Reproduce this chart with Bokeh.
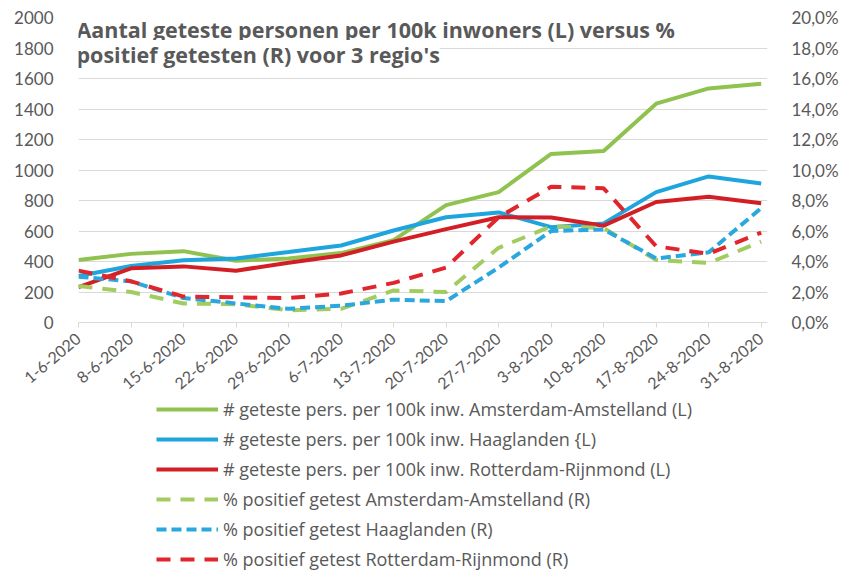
from bokeh.plotting import figure
from bokeh.layouts import column
from bokeh.models import (Range1d, LinearAxis, FixedTicker, CustomJSTickFormatter,
                          Legend, LegendItem, Label)
from bokeh.embed import file_html
from bokeh.resources import INLINE

dates = ["1-6-2020", "8-6-2020", "15-6-2020", "22-6-2020", "29-6-2020", "6-7-2020",
         "13-7-2020", "20-7-2020", "27-7-2020", "3-8-2020", "10-8-2020", "17-8-2020",
         "24-8-2020", "31-8-2020"]

tests_ams = [410, 450, 468, 405, 420, 455, 540, 770, 855, 1105, 1125, 1435, 1535, 1565]
tests_haa = [305, 370, 408, 420, 462, 505, 603, 690, 722, 625, 650, 855, 958, 912]
tests_rot = [232, 355, 368, 340, 392, 440, 530, 612, 690, 688, 635, 790, 825, 782]

pct_ams = [2.4, 2.0, 1.25, 1.2, 0.8, 0.9, 2.1, 2.0, 4.9, 6.3, 6.2, 4.1, 3.9, 5.3]
pct_haa = [3.0, 2.7, 1.6, 1.25, 0.9, 1.1, 1.5, 1.4, 3.6, 6.0, 6.1, 4.2, 4.6, 7.5]
pct_rot = [3.4, 2.7, 1.7, 1.65, 1.6, 1.9, 2.6, 3.6, 6.9, 8.9, 8.8, 5.0, 4.5, 5.9]

left_ticks = list(range(0, 2001, 200))
right_ticks = list(range(0, 21, 2))

legend_labels = [
    "# geteste pers. per 100k inw. Amsterdam-Amstelland (L)",
    "# geteste pers. per 100k inw. Haaglanden {L)",
    "# geteste pers. per 100k inw. Rotterdam-Rijnmond (L)",
    "% positief getest Amsterdam-Amstelland (R)",
    "% positief getest Haaglanden (R)",
    "% positief getest Rotterdam-Rijnmond (R)",
]
title_lines = ["Aantal geteste personen per 100k inwoners (L) versus %",
               "positief getesten (R) voor 3 regio's"]

GREEN = "#8fc24f"
BLUE = "#1ea5de"
RED = "#d21f26"
GREEN_D = "#a2cc60"
BLUE_D = "#2aa8de"
RED_D = "#e0262c"
TXT = "#595959"
GRID = "#d9d9d9"
FONT = "Lato"
W = 4
DASH_LONG = "14 10"
DASH_SHORT = "10 5"

xs = list(range(len(dates)))

p = figure(frame_width=689, frame_height=305, output_backend="svg", toolbar_location=None,
           x_range=Range1d(0, 13.12), y_range=Range1d(0, 2000),
           min_border_left=78, min_border_right=10, min_border_top=17,
           min_border_bottom=73)
p.outline_line_color = None
p.extra_y_ranges = {"pct": Range1d(0, 20)}

xa = p.xaxis[0]
xa.ticker = FixedTicker(ticks=xs)
xa.major_label_overrides = {i: d for i, d in enumerate(dates)}
xa.major_label_orientation = 0.70
xa.axis_line_color = GRID
xa.major_tick_line_color = GRID
xa.major_tick_out = 5
xa.major_tick_in = 0
xa.minor_tick_line_color = None
xa.major_label_text_font = FONT
xa.major_label_text_font_size = "16px"
xa.major_label_text_color = TXT
xa.major_label_standoff = 9

ya = p.yaxis[0]
ya.ticker = FixedTicker(ticks=left_ticks)
ya.axis_line_color = None
ya.major_tick_line_color = None
ya.minor_tick_line_color = None
ya.major_label_text_font = FONT
ya.major_label_text_font_size = "17px"
ya.major_label_text_color = TXT
ya.major_label_standoff = 19

ra = LinearAxis(y_range_name="pct", ticker=FixedTicker(ticks=right_ticks),
                formatter=CustomJSTickFormatter(code="return tick.toFixed(1).replace('.', ',') + '%';"))
ra.axis_line_color = None
ra.major_tick_line_color = None
ra.minor_tick_line_color = None
ra.major_label_text_font = FONT
ra.major_label_text_font_size = "17px"
ra.major_label_text_color = TXT
ra.major_label_standoff = 18
p.add_layout(ra, "right")

p.xgrid.grid_line_color = None
p.ygrid.ticker = FixedTicker(ticks=left_ticks)
p.ygrid.grid_line_color = GRID
p.ygrid.grid_line_width = 1

p.line(xs, tests_ams, line_color=GREEN, line_width=W)
p.line(xs, tests_haa, line_color=BLUE, line_width=W)
p.line(xs, tests_rot, line_color=RED, line_width=W)
p.line(xs, pct_ams, y_range_name="pct", line_color=GREEN_D, line_width=W, line_dash=DASH_LONG)
p.line(xs, pct_haa, y_range_name="pct", line_color=BLUE_D, line_width=W, line_dash=DASH_SHORT)
p.line(xs, pct_rot, y_range_name="pct", line_color=RED_D, line_width=W, line_dash=DASH_LONG)

for t, yy in zip(title_lines, [293, 268]):
    p.add_layout(Label(x=-2, y=yy, x_units="screen", y_units="screen", text=t,
                       text_font="Open Sans", text_font_style="bold", text_font_size="21.5px",
                       text_color=TXT, text_baseline="middle",
                       background_fill_color="white", padding=0))

# legend panel (its frame is aligned with the chart frame by the column layout)
q = figure(width=826, height=176, output_backend="svg", toolbar_location=None,
           x_range=Range1d(0, 1), y_range=Range1d(0, 1),
           x_axis_location=None, y_axis_location=None,
           min_border_left=0, min_border_right=0, min_border_top=0, min_border_bottom=0)
q.grid.visible = False
q.outline_line_color = None
styles = [(GREEN, None), (BLUE, None), (RED, None),
          (GREEN_D, DASH_LONG), (BLUE_D, DASH_SHORT), (RED_D, DASH_LONG)]
rs = []
for c, d in styles:
    kw = dict(line_color=c, line_width=W)
    if d:
        kw["line_dash"] = d
    rs.append(q.line([-5, -4], [-5, -4], **kw))

legend = Legend(items=[LegendItem(label=l, renderers=[r]) for l, r in zip(legend_labels, rs)],
                location=(78, 2), orientation="vertical",
                glyph_width=62, glyph_height=20, label_height=20, spacing=6,
                label_standoff=5, padding=0, margin=0,
                border_line_color=None, background_fill_alpha=0,
                label_text_font="Open Sans", label_text_font_size="18px",
                label_text_color=TXT)
q.add_layout(legend, "center")

layout = column(p, q, spacing=0)
open("out.html", "w").write(file_html(layout, INLINE))
